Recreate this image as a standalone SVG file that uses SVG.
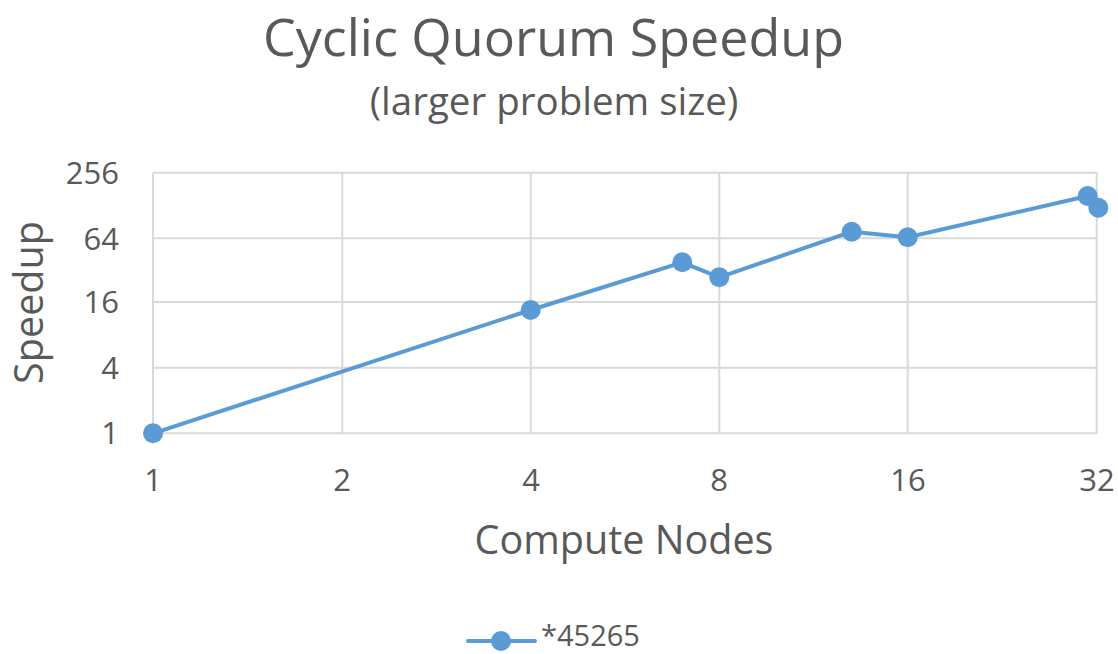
<svg xmlns="http://www.w3.org/2000/svg" width="1118" height="654" viewBox="0 0 1118 654">
<style>
.t{font-family:"Open Sans","Liberation Sans",sans-serif;fill:#595959}
.grid{stroke:#d9d9d9;stroke-width:2;fill:none}
.ser{stroke:#5b9bd5;stroke-width:4;fill:none;stroke-linejoin:round;stroke-linecap:round}
.dot{fill:#5b9bd5}
</style>
<rect width="1118" height="654" fill="#fff"/>
<g id="title">
<text class="t" x="553.5" y="56" font-size="52" text-anchor="middle">Cyclic Quorum Speedup</text>
<text class="t" x="554" y="115" font-size="38.5" text-anchor="middle">(larger problem size)</text>
</g>
<g id="grid">
<path class="grid" d="M153,172.7H1097M153,238.3H1097M153,302H1097M153,367.7H1097M153,433.3H1097"/>
<path class="grid" d="M153,172.7V433.3M342.3,172.7V433.3M530.7,172.7V433.3M719.3,172.7V433.3M907.7,172.7V433.3M1096.7,172.7V433.3"/>
</g>
<g id="yaxis" class="t" font-size="31" text-anchor="end">
<text x="119" y="183.5">256</text>
<text x="119" y="249.5">64</text>
<text x="119" y="313">16</text>
<text x="119" y="378.5">4</text>
<text x="119" y="444">1</text>
<text x="0" y="0" font-size="39.5" text-anchor="middle" transform="translate(43,302.5) rotate(-90)">Speedup</text>
</g>
<g id="xaxis" class="t" font-size="31" text-anchor="middle">
<text x="153" y="491">1</text>
<text x="342" y="491">2</text>
<text x="531" y="491">4</text>
<text x="719" y="491">8</text>
<text x="908" y="491">16</text>
<text x="1097" y="491">32</text>
<text x="624" y="553.5" font-size="39.5">Compute Nodes</text>
</g>
<g id="series">
<polyline class="ser" points="153,433.3 530.7,310 682.3,262.3 719.3,277.3 851.7,231.7 907.7,237.3 1087.7,196 1098.3,207.7"/>
<g class="dot">
<circle cx="153" cy="433.3" r="10"/>
<circle cx="530.7" cy="310" r="10"/>
<circle cx="682.3" cy="262.3" r="10"/>
<circle cx="719.3" cy="277.3" r="10"/>
<circle cx="851.7" cy="231.7" r="10"/>
<circle cx="907.7" cy="237.3" r="10"/>
<circle cx="1087.7" cy="196" r="10"/>
<circle cx="1098.3" cy="207.7" r="10"/>
</g>
</g>
<g id="legend">
<line class="ser" x1="468" y1="641" x2="535" y2="641" stroke-linecap="butt"/>
<circle class="dot" cx="501" cy="641" r="10"/>
<text class="t" x="541" y="646" font-size="29">*45265</text>
</g>
</svg>
